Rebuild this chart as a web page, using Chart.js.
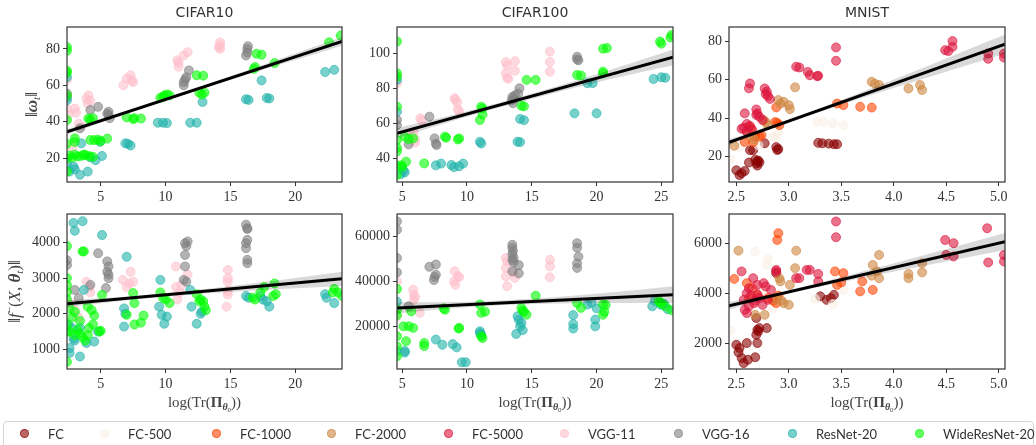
<!DOCTYPE html>
<html>
<head>
<meta charset="utf-8">
<script src="https://cdn.jsdelivr.net/npm/chart.js@4.4.1/dist/chart.umd.min.js"></script>
<style>
  body { margin: 0; background: #fff; width: 1036px; height: 445px; overflow: hidden; position: relative; }
  canvas { position: absolute; }
  #legend { position: absolute; left: 3px; top: 421px; width: 1029px; height: 40px; border: 1px solid #d4d4d4; border-radius: 4px; font-family: Lato, sans-serif; font-size: 13px; color: #333; }
  .item { position: absolute; top: 0; height: 24px; line-height: 24px; white-space: nowrap; }
  .dot { position: absolute; width: 7px; height: 7px; border-radius: 50%; top: 7px; }
</style>
</head>
<body>
<canvas id="c10w" width="350" height="212" style="left:0px;top:0px"></canvas>
<canvas id="c100w" width="351" height="212" style="left:330px;top:0px"></canvas>
<canvas id="mnw" width="351" height="212" style="left:662px;top:0px"></canvas>
<canvas id="c10f" width="350" height="255" style="left:0px;top:190px"></canvas>
<canvas id="c100f" width="351" height="255" style="left:330px;top:190px"></canvas>
<canvas id="mnf" width="351" height="255" style="left:662px;top:190px"></canvas>
<div id="legend"></div>
<script>
// ---- models / colours ----
const modelNames = ["FC", "FC-500", "FC-1000", "FC-2000", "FC-5000", "VGG-11", "VGG-16", "ResNet-20", "WideResNet-20"];
const modelColors = {
  "FC": [139, 0, 0],
  "FC-500": [250, 240, 230],
  "FC-1000": [255, 69, 0],
  "FC-2000": [205, 133, 63],
  "FC-5000": [220, 20, 60],
  "VGG-11": [255, 192, 203],
  "VGG-16": [128, 128, 128],
  "ResNet-20": [32, 178, 170],
  "WideResNet-20": [0, 255, 0],
};

// ---- CIFAR10, ||w_t|| ----
const c10w_vgg11 = [[14.2,83.5],[14.2,82],[14.1,80.8],[14.2,80],[11.7,78.2],[11.4,76.4],[10.9,73.8],[11.0,72.5],[11.0,70.2],
  [7.3,65.5],[7.4,62.7],[7.5,61.8],[7.0,63.8],[6.75,60],[4.05,54.5],[3.9,52.7],[4.2,51.5],[4.0,50],
  [3.0,47.3],[3.1,45],[3.3,39],[3.5,37.5],[2.4,63],[2.4,47],[2.8,26],[2.5,44]];
const c10w_vgg16 = [[16.35,81.5],[16.3,80],[16.3,78],[16.2,76.4],[11.8,68.2],[11.6,64.5],[11.5,63.2],[11.4,61.8],[11.4,60],
  [5.6,45.5],[5.6,43.6],[5.7,42],[5.5,44.5],[4.8,48.2],[4.2,46.5],[3.4,36.4],[2.4,55.5],[2.4,53.6]];
const c10w_resnet = [[22.3,67.3],[23.0,68.5],[17.4,62.7],[16.2,52.4],[16.4,52],[17.8,53.1],[18.0,52.8],
  [12.85,50.9],[11.9,39.5],[12.4,39.5],[9.4,39.5],[9.8,39.5],[10.1,39.3],[6.9,28.2],[7.1,28],[7.3,27],
  [4.95,29],[5.1,21.3],[4.6,19],[3.5,28.2],[4.0,12.7],[3.4,11],[2.9,15.5],[2.6,12.7],[3.0,14],[2.4,64.5],[2.4,51.8],[2.4,17],[4.2,20.5]];
const c10w_wide = [[23.5,87.3],[22.6,83.6],[18.4,72.2],[17.0,77.3],[17.4,76.8],[16.9,70],[16.8,69],
  [12.4,65.5],[12.9,65.3],[12.6,56],[12.8,55],[13.0,56],[9.6,53.2],[9.9,54.5],[10.1,55],[10.3,54.5],[9.8,53.5],
  [7.0,42.5],[7.5,41.5],[7.6,42],[8.1,41.8],[4.05,41.8],[4.4,42],[4.2,41],
  [4.2,30],[4.5,30],[4.8,30.2],[5.0,29.5],[5.5,30.8],[3.0,31],[3.0,29],
  [2.6,21.5],[2.8,20.5],[3.2,21],[3.5,21.3],[3.8,21.8],[4.1,21.2],[4.4,20.8],[3.0,22],[3.7,22],
  [2.4,81],[2.4,79],[2.4,68],[2.4,67],[2.4,54.5],[2.4,41],[2.4,28],[2.4,12.7],[2.4,20]];
const c10w_fit = [[2.4,34.5],[23.6,84.1]];
const c10w_band = [[2.4,33.0,36.0],[7.6,45.9,47.5],[12.9,58.3,59.9],[18.2,70.0,73.0],[23.6,81.7,86.5]];

// ---- CIFAR10, ||f(X, theta_t)|| ----
const c10f_vgg16 = [[16.2,4500],[16.3,4400],[16.3,4380],[16.3,4075],[16.2,3980],[16.2,3840],[16.3,3514],[16.3,3420],
  [11.5,3980],[11.6,3900],[11.7,4030],[11.5,3650],[11.5,3330],[11.4,2950],[11.6,2900],
  [5.5,3470],[5.6,3330],[5.5,3180],[5.6,3100],[5.6,3000],[5.4,2720],[4.8,3700],
  [4.2,2810],[3.0,2670],[3.3,2440],[2.4,3500],[2.4,3370]];
const c10f_vgg11 = [[14.8,3230],[14.8,3000],[14.8,2900],[14.8,2640],[14.8,2540],[14.7,2200],
  [10.8,3330],[11.7,3100],[10.8,2750],[11.1,2600],[10.9,2400],[11.2,2800],
  [7.3,3180],[6.7,2950],[7.5,2900],[7.0,2750],[7.2,2850],[3.9,2900],[4.2,2600],[4.1,2750],[3.0,2100],[3.3,1900],[2.6,2300]];
const c10f_resnet = [[2.9,4550],[3.0,4330],[3.6,4600],[5.1,4210],[7.0,3600],[9.6,2950],
  [11.9,2670],[12.0,2200],[12.4,1720],[12.8,2060],[12.7,2000],
  [16.2,2500],[16.4,2450],[17.3,2500],[17.8,2350],[18.0,2200],[17.5,2400],[22.3,2550],[22.4,2450],[23.0,2300],
  [6.8,2150],[6.9,2000],[6.8,1640],[9.5,2200],[9.7,1970],[9.9,1720],[10.1,1920],
  [3.7,2670],[2.6,1040],[2.6,900],[3.4,800],[3.9,1180],[4.5,1220],[4.8,1500],[2.9,1300],[3.4,1600],[3.0,1250],[2.5,1700],[2.8,1600]];
const c10f_wide = [[23.0,2700],[23.3,2600],[23.6,2500],[22.9,2600],[16.7,2450],[16.9,2400],[17.3,2600],[17.6,2750],[18.4,2850],[18.5,2550],[18.3,2500],
  [12.4,2550],[12.7,2400],[12.9,2350],[13.0,2200],[13.1,2100],[12.6,2350],[9.6,2600],[10.0,2400],[10.3,2300],[9.8,2450],
  [7.5,2580],[7.6,2300],[8.3,1950],[7.6,1700],[8.1,1750],[7.0,1970],[3.6,3750],[3.7,3750],[5.1,2530],
  [2.6,2150],[3.0,2050],[3.4,1800],[4.0,2200],[4.3,2100],[4.5,1950],[4.1,1600],[4.4,1700],[3.0,1400],[3.4,1450],[3.8,1250],
  [2.6,1500],[4.0,1400],[3.2,1550],[4.9,1500],[5.0,1520],[2.8,1900],[3.6,1350],
  [2.4,3900],[2.4,3000],[2.4,2800],[2.4,2600],[2.4,2400],[2.4,1700],[2.4,1500],[2.4,650]];
const c10f_fit = [[2.4,2280],[23.6,2980]];
const c10f_band = [[2.4,2180,2380],[7.6,2400,2500],[12.9,2567,2687],[18.2,2682,2922],[23.6,2780,3180]];

// ---- CIFAR100, ||w_t|| ----
const c100w_vgg11 = [[16.4,101],[16.4,95],[16.4,89.5],[13.0,95],[13.7,95.5],[13.1,93],[13.7,90],[13.0,88.6],[13.1,86],[13.2,85.5],
  [9.05,74.3],[9.25,72],[9.3,68],[9.4,66.7],[9.1,73.5],[6.4,62.9],[6.5,61.5],[5.9,55],[6.0,51],[6.0,49],[5.8,53],[4.6,87],[4.6,83]];
const c100w_vgg16 = [[18.5,98],[18.5,96.5],[18.6,96],[14.05,80],[13.95,77],[13.5,75],[13.45,73],[13.55,71.5],[13.7,76],[13.6,74],
  [7.1,63.8],[7.5,51.4],[7.6,48.5],[7.65,47.6],[5.5,48],[4.6,62],[4.6,59]];
const c100w_resnet = [[24.4,85.3],[25.0,86.3],[25.3,86],[19.3,82.9],[19.7,83],[18.3,65.7],[20.0,65.7],[14.1,62.5],[14.4,61.8],
  [13.9,49.5],[14.1,49.3],[11.0,49.5],[11.1,48.5],[7.6,36],[8.0,37],[8.8,36.2],[9.0,35],[9.4,35.5],[9.7,37],
  [5.2,32],[5.1,33],[4.9,31],[4.6,84.8],[4.6,66.7]];
const c100w_wide = [[25.8,110.5],[25.7,109],[24.9,106.7],[25.0,105.5],[20.5,102.6],[20.8,103],[20.5,89.5],[20.5,88.5],[18.5,87.6],[18.8,87.3],
  [14.6,84.8],[15.3,84.8],[14.2,70],[14.4,69.7],[11.1,69.5],[11.2,68.5],[11.2,65],[11.0,61.9],
  [8.3,52.4],[8.4,51.8],[9.4,51.4],[9.3,50.8],[5.2,52.4],[5.85,51.4],[5.5,51],[5.3,38.1],[4.95,36],[6.7,37.1],[5.0,35],
  [4.6,106.7],[4.6,88.6],[4.6,86.7],[4.6,69.5],[4.6,50.5],[4.6,46],[4.6,44],[4.6,36],[4.6,30.5]];
const c100w_fit = [[4.6,54.3],[25.9,97.7]];
const c100w_band = [[4.6,51.3,57.3],[9.9,63.6,66.6],[15.25,74.5,77.5],[20.6,84.4,89.4],[25.9,93.2,102.2]];

// ---- CIFAR100, ||f(X, theta_t)|| ----
const c100f_vgg16 = [[18.5,57000],[18.5,55000],[18.6,51000],[18.5,48000],[18.5,46000],
  [13.5,56300],[13.5,55000],[13.55,53500],[13.5,52000],[13.5,49500],[13.6,48500],[14.0,47300],[13.5,44500],[14.0,43600],[13.6,50500],
  [7.6,47500],[7.1,46500],[7.6,43000],[7.5,42000],[7.45,40600],[5.5,28900],[4.6,66700],[4.6,63000],[4.6,50400],[4.6,44000]];
const c100f_vgg11 = [[16.4,49600],[16.4,46700],[16.4,41800],[13.0,50400],[13.1,48900],[13.0,46000],[13.0,42300],[13.1,37900],[13.7,41600],[13.6,44000],
  [9.05,44500],[9.3,42300],[9.0,40000],[9.1,38500],[9.4,41900],[5.85,36300],[5.9,34000],[6.0,33000],[5.9,31800],[6.36,26000],[4.6,40000],[4.6,24500]];
const c100f_resnet = [[24.3,28900],[24.5,31300],[25.2,30000],[25.5,27600],[25.0,29500],[19.3,29700],[19.6,30500],[20.0,28000],[19.9,23000],[19.9,20000],
  [18.2,25000],[18.2,21000],[18.2,19000],[13.9,24500],[14.0,22900],[14.1,20000],[14.3,18300],[13.8,16600],[14.2,21500],
  [11.0,17800],[11.1,16300],[11.0,17000],[7.6,14100],[8.1,11800],[8.9,12100],[9.2,10600],
  [9.6,4000],[9.9,4000],[5.2,9000],[5.2,8300],[4.6,31000],[4.6,9000]];
const c100f_wide = [[24.8,31300],[25.0,30300],[25.3,28900],[25.8,27200],[24.9,30500],[20.5,29700],[20.6,26500],[20.5,25200],[20.7,29500],
  [18.5,30400],[18.8,28200],[15.3,33600],[14.2,28200],[14.4,26500],[14.6,25200],[14.3,27000],
  [11.0,29700],[11.4,26500],[11.1,26000],[11.1,15600],[11.2,14800],[9.4,19300],[9.35,19000],[8.3,27400],[8.2,28000],
  [6.7,12600],[6.7,11200],[5.3,13400],[5.1,20000],[5.85,19300],[5.5,20000],[5.7,26700],
  [4.6,36600],[4.6,27400],[4.6,25000],[4.6,15600],[4.6,11000],[4.6,6700]];
const c100f_fit = [[4.6,28180],[25.9,34090]];
const c100f_band = [[4.6,25680,30680],[9.9,28450,30850],[15.25,29940,32340],[20.6,30420,34820],[25.9,30390,37790]];

// ---- MNIST, ||w_t|| ----
const mnw_fc5000 = [[4.56,80],[4.56,77],[4.49,75.3],[4.52,74.8],[4.9,73.6],[4.9,70.8],[5.05,73.5],[5.05,71.5],
  [3.45,76.7],[3.45,69.8],[3.07,66.7],[3.1,66.3],[3.18,64],[3.2,62.3],[3.27,61.8],[3.28,62],
  [2.63,58],[2.62,55.5],[2.77,55.4],[2.79,53.8],[2.8,51.5],[2.82,50],[2.78,52.5],
  [2.58,42.5],[2.69,41.7],[2.69,44.5],[2.72,40.7],[2.57,35],[2.6,37],[2.6,33],[2.65,34],[2.55,34.5],[2.7,42.5],[2.75,39],[2.63,36]];
const mnw_fc = [[3.28,27.2],[3.32,27],[3.38,26.8],[3.43,26.5],[3.46,26.5],[2.88,25],[2.89,23.5],[2.9,24],
  [2.66,23.4],[2.68,18.5],[2.7,17.6],[2.7,15.4],[2.72,17],[2.69,16.5],[2.71,18],
  [2.5,13],[2.53,10.5],[2.58,12.6],[2.55,11.5],[2.77,27],[2.63,23.4],[2.62,17]];
const mnw_fc1000 = [[3.68,45.9],[3.79,45.5],[3.46,47.6],[3.52,46.8],[2.88,45.6],[2.87,38],[2.91,36.4],[2.89,37.5],
  [2.74,31.2],[2.72,30.5],[2.58,27.7],[2.66,27.5],[2.64,34.7],[2.62,35.5],[2.68,30.5]];
const mnw_fc2000 = [[3.79,58.9],[3.86,57.2],[3.82,57.8],[4.14,55.4],[4.25,57.2],[4.27,54.6],[3.06,56],
  [2.9,49.4],[2.95,48.5],[2.92,47.5],[3.0,46.7],[3.01,44.7],[2.76,39],[2.8,36.4],[2.78,38],[2.48,25.7],[2.6,33],[2.67,29],[2.63,31]];
const mnw_fc500 = [[3.27,38.1],[3.33,38.1],[3.42,37.2],[3.52,36.4],[2.85,30.3],[2.88,30.3],[2.71,26],[2.44,18.6],[2.53,25.2],[2.6,29],[2.9,33]];
const mnw_fit = [[2.43,27.5],[5.06,78.4]];
const mnw_band = [[2.43,26,29],[3.0,37.7,39.3],[3.66,49.8,52.8],[4.4,62.4,68.8],[5.06,73.4,83.4]];

// ---- MNIST, ||f(X, theta_t)|| ----
const mnf_fc5000 = [[3.45,6870],[3.45,6240],[4.89,6600],[4.9,5230],[4.49,6130],[4.57,6000],[4.5,5530],[4.57,5470],
  [5.05,5530],[5.05,5270],[3.17,4930],[3.2,4930],[3.07,4600],[3.1,4600],[3.28,4770],[3.28,4470],[2.88,4930],[2.88,4870],
  [2.55,4870],[2.66,4600],[2.7,4330],[2.6,4000],[2.57,3730],[2.62,3470],[2.75,3530],[2.8,3730],[2.83,4130],[2.6,3200],
  [2.58,3330],[2.72,3800],[2.64,3900],[2.78,4270],[2.67,3600],[2.7,3950],[2.76,4400],[2.62,4200],[2.68,3700]];
const mnf_fc = [[3.3,3870],[3.36,3730],[3.43,3930],[3.4,3800],[2.69,3000],[2.7,2530],[2.71,2470],[2.69,2330],[2.72,2600],[2.7,2000],
  [2.5,1930],[2.52,1630],[2.55,1400],[2.57,1200],[2.61,1330],[2.68,1430],[2.79,2600],[2.6,2000],[2.53,1800],[2.88,4800]];
const mnf_fc1000 = [[2.9,6400],[2.89,6130],[3.44,4870],[3.52,4800],[3.46,4330],[3.5,4430],[3.7,4470],[3.68,4070],[3.8,4130],[2.48,4570],
  [2.6,4400],[2.65,4200],[2.7,3900],[2.8,3800],[2.85,3700],[2.9,3900],[2.88,3600],[2.62,3800]];
const mnf_fc2000 = [[2.52,5700],[3.07,5700],[3.06,5000],[3.86,5530],[3.8,5130],[3.84,4870],[3.86,4600],[3.79,4700],
  [4.14,4770],[4.14,4600],[4.27,5200],[4.27,4830],[2.91,4600],[2.92,4470],[3.01,4330],[2.88,3730],[3.0,3530],[2.95,3600],[2.77,3130],[2.68,3130],[2.93,3700]];
const mnf_fc500 = [[2.68,5670],[2.8,5360],[2.79,5130],[3.52,4130],[3.42,3560],[3.25,3770],[2.44,2500],[2.85,3400],[2.76,4130],[2.6,3500]];
const mnf_fit = [[2.43,3492],[5.06,6064]];
const mnf_band = [[2.43,3340,3640],[3.0,3980,4120],[3.66,4575,4815],[4.4,5190,5650],[5.06,5724,6404]];

// ---- axis ranges / ticks ----
const c10X = [5, 10, 15, 20], c100X = [5, 10, 15, 20, 25], mnX = [2.5, 3.0, 3.5, 4.0, 4.5, 5.0];
const c10wY = [20, 40, 60, 80], c100wY = [40, 60, 80, 100], mnwY = [20, 40, 60, 80];
const c10fY = [1000, 2000, 3000, 4000], c100fY = [20000, 40000, 60000], mnfY = [2000, 4000, 6000];

const SERIF = '"Liberation Serif", "DejaVu Serif", serif';
const INK = '#333';
Chart.defaults.font.family = SERIF;
Chart.defaults.font.size = 14;

function rgba(c, a) { return `rgba(${c[0]},${c[1]},${c[2]},${a})`; }

function drawRuns(ctx, runs, cx, cy, rot) {
  ctx.save();
  ctx.translate(cx, cy);
  ctx.rotate(rot);
  let w = 0;
  runs.forEach(r => { ctx.font = r.f; w += ctx.measureText(r.t).width; });
  let x = -w / 2;
  ctx.textBaseline = 'alphabetic';
  ctx.textAlign = 'left';
  ctx.fillStyle = '#444';
  runs.forEach(r => {
    ctx.font = r.f;
    ctx.fillText(r.t, x, 5 + (r.dy || 0));
    x += ctx.measureText(r.t).width;
  });
  ctx.restore();
}

const yTitleW = [
  { t: '‖', f: `17px ${SERIF}` }, { t: 'ω', f: `bold italic 17px ${SERIF}` },
  { t: 't', f: `italic 11px ${SERIF}`, dy: 3 }, { t: '‖', f: `17px ${SERIF}` }];
const yTitleF = [
  { t: '‖', f: `17px ${SERIF}` }, { t: 'f', f: `italic 17px ${SERIF}` }, { t: '−', f: `11px ${SERIF}`, dy: -7 },
  { t: '(', f: `17px ${SERIF}` }, { t: 'X', f: `italic 17px ${SERIF}` }, { t: ', ', f: `17px ${SERIF}` },
  { t: 'θ', f: `bold italic 17px ${SERIF}` }, { t: 't', f: `italic 11px ${SERIF}`, dy: 3 },
  { t: ')', f: `17px ${SERIF}` }, { t: '‖', f: `17px ${SERIF}` }];
const xTitle = [
  { t: 'log(Tr(', f: `15px ${SERIF}` }, { t: 'Π', f: `bold 15px ${SERIF}` },
  { t: 'θ', f: `bold italic 10px ${SERIF}`, dy: 3 }, { t: '0', f: `7px ${SERIF}`, dy: 5 },
  { t: '))', f: `15px ${SERIF}` }];

function panel(id, p) {
  const deco = {
    id: 'deco',
    afterDatasetsDraw(chart) {
      const a = chart.chartArea, ctx = chart.ctx;
      ctx.save();
      ctx.strokeStyle = INK;
      ctx.lineWidth = 1.2;
      ctx.strokeRect(a.left, a.top, a.right - a.left, a.bottom - a.top);
      ctx.restore();
    },
    afterDraw(chart) {
      const a = chart.chartArea, ctx = chart.ctx;
      const cx = (a.left + a.right) / 2;
      if (p.title) {
        ctx.save();
        ctx.font = '14px "DejaVu Sans", sans-serif';
        ctx.fillStyle = INK;
        ctx.textAlign = 'center';
        ctx.textBaseline = 'middle';
        ctx.fillText(p.title, cx, a.top - 14);
        ctx.restore();
      }
      if (p.xTitle) drawRuns(ctx, p.xTitle, cx, a.bottom + 33, 0);
      if (p.yTitle) drawRuns(ctx, p.yTitle, a.left - p.yTitleOff, (a.top + a.bottom) / 2, -Math.PI / 2);
    }
  };

  const datasets = [
    { type: 'line', data: p.fit.map(v => ({ x: v[0], y: v[1] })), borderColor: '#000', borderWidth: 3,
      pointRadius: 0, fill: false, clip: 0 },
    { type: 'line', data: p.band.map(v => ({ x: v[0], y: v[2] })), borderColor: 'transparent', borderWidth: 0,
      pointRadius: 0, fill: '+1', backgroundColor: 'rgba(0,0,0,0.15)', cubicInterpolationMode: 'monotone', clip: 0 },
    { type: 'line', data: p.band.map(v => ({ x: v[0], y: v[1] })), borderColor: 'transparent', borderWidth: 0,
      pointRadius: 0, fill: false, cubicInterpolationMode: 'monotone', clip: 0 },
  ];
  p.models.slice().reverse().forEach(m => {
    const c = modelColors[m.name];
    datasets.push({
      type: 'scatter', label: m.name,
      data: m.pts.map(v => ({ x: v[0], y: v[1] })),
      backgroundColor: rgba(c, 0.6), borderColor: rgba(c, 0.6), borderWidth: 1, pointRadius: 4.5, clip: 0
    });
  });

  new Chart(document.getElementById(id), {
    type: 'scatter',
    data: { datasets },
    plugins: [deco],
    options: {
      responsive: false, animation: false, events: [],
      layout: { padding: { top: p.padTop, bottom: p.padBottom, left: 0, right: 8 } },
      plugins: { legend: { display: false }, tooltip: { enabled: false } },
      scales: {
        x: {
          type: 'linear', min: p.xr[0], max: p.xr[1],
          afterBuildTicks: s => { s.ticks = p.xt.map(v => ({ value: v })); },
          afterFit: s => { s.height = 30; s.paddingLeft = 0; s.paddingRight = 0; },
          grid: { drawOnChartArea: false, tickLength: 4, color: INK },
          border: { display: false },
          ticks: { padding: 3, color: INK, font: { family: SERIF, size: 14 }, autoSkip: false, maxRotation: 0,
            callback: v => p.xFmt ? v.toFixed(1) : String(v) }
        },
        y: {
          type: 'linear', min: p.yr[0], max: p.yr[1],
          afterBuildTicks: s => { s.ticks = p.yt.map(v => ({ value: v })); },
          afterFit: s => { s.width = 67; s.paddingTop = 0; s.paddingBottom = 0; },
          grid: { drawOnChartArea: false, tickLength: 4, color: INK },
          border: { display: false },
          ticks: { padding: 3, color: INK, font: { family: SERIF, size: 14 }, autoSkip: false, callback: v => String(v) }
        }
      }
    }
  });
}

const cifarModels = (a, b, c, d) => [
  { name: 'VGG-11', pts: a }, { name: 'VGG-16', pts: b }, { name: 'ResNet-20', pts: c }, { name: 'WideResNet-20', pts: d }];
const mnistModels = (a, b, c, d, e) => [
  { name: 'FC', pts: a }, { name: 'FC-500', pts: b }, { name: 'FC-1000', pts: c }, { name: 'FC-2000', pts: d }, { name: 'FC-5000', pts: e }];

const rowTop = { padTop: 27, padBottom: 0 }, rowBot = { padTop: 24, padBottom: 46 };

panel('c10w', { ...rowTop, title: 'CIFAR10', yTitle: yTitleW, yTitleOff: 35, xr: [2.4, 23.6], yr: [7, 92], xt: c10X, yt: c10wY,
  models: cifarModels(c10w_vgg11, c10w_vgg16, c10w_resnet, c10w_wide), fit: c10w_fit, band: c10w_band });
panel('c100w', { ...rowTop, title: 'CIFAR100', xr: [4.6, 25.9], yr: [26.5, 115], xt: c100X, yt: c100wY,
  models: cifarModels(c100w_vgg11, c100w_vgg16, c100w_resnet, c100w_wide), fit: c100w_fit, band: c100w_band });
panel('mnw', { ...rowTop, title: 'MNIST', xr: [2.43, 5.06], yr: [6.9, 87.3], xt: mnX, yt: mnwY, xFmt: true,
  models: mnistModels(mnw_fc, mnw_fc500, mnw_fc1000, mnw_fc2000, mnw_fc5000), fit: mnw_fit, band: mnw_band });
panel('c10f', { ...rowBot, xTitle, yTitle: yTitleF, yTitleOff: 52, xr: [2.4, 23.6], yr: [450, 4800], xt: c10X, yt: c10fY,
  models: cifarModels(c10f_vgg11, c10f_vgg16, c10f_resnet, c10f_wide), fit: c10f_fit, band: c10f_band });
panel('c100f', { ...rowBot, xTitle, xr: [4.6, 25.9], yr: [1000, 70000], xt: c100X, yt: c100fY,
  models: cifarModels(c100f_vgg11, c100f_vgg16, c100f_resnet, c100f_wide), fit: c100f_fit, band: c100f_band });
panel('mnf', { ...rowBot, xTitle, xr: [2.43, 5.06], yr: [960, 7170], xt: mnX, yt: mnfY, xFmt: true,
  models: mnistModels(mnf_fc, mnf_fc500, mnf_fc1000, mnf_fc2000, mnf_fc5000), fit: mnf_fit, band: mnf_band });

// ---- legend ----
const legendDotX = [23, 103, 215, 330, 447, 563, 677, 791, 918];
const legend = document.getElementById('legend');
modelNames.forEach((name, i) => {
  const c = modelColors[name];
  const dot = document.createElement('div');
  dot.className = 'dot';
  dot.style.left = (legendDotX[i] - 3 - 4.5) + 'px';
  dot.style.background = rgba(c, 0.6);
  dot.style.border = '1px solid ' + rgba(c, 0.6);
  legend.appendChild(dot);
  const t = document.createElement('div');
  t.className = 'item';
  t.style.left = (legendDotX[i] - 3 + 24) + 'px';
  t.textContent = name;
  legend.appendChild(t);
});
</script>
</body>
</html>
